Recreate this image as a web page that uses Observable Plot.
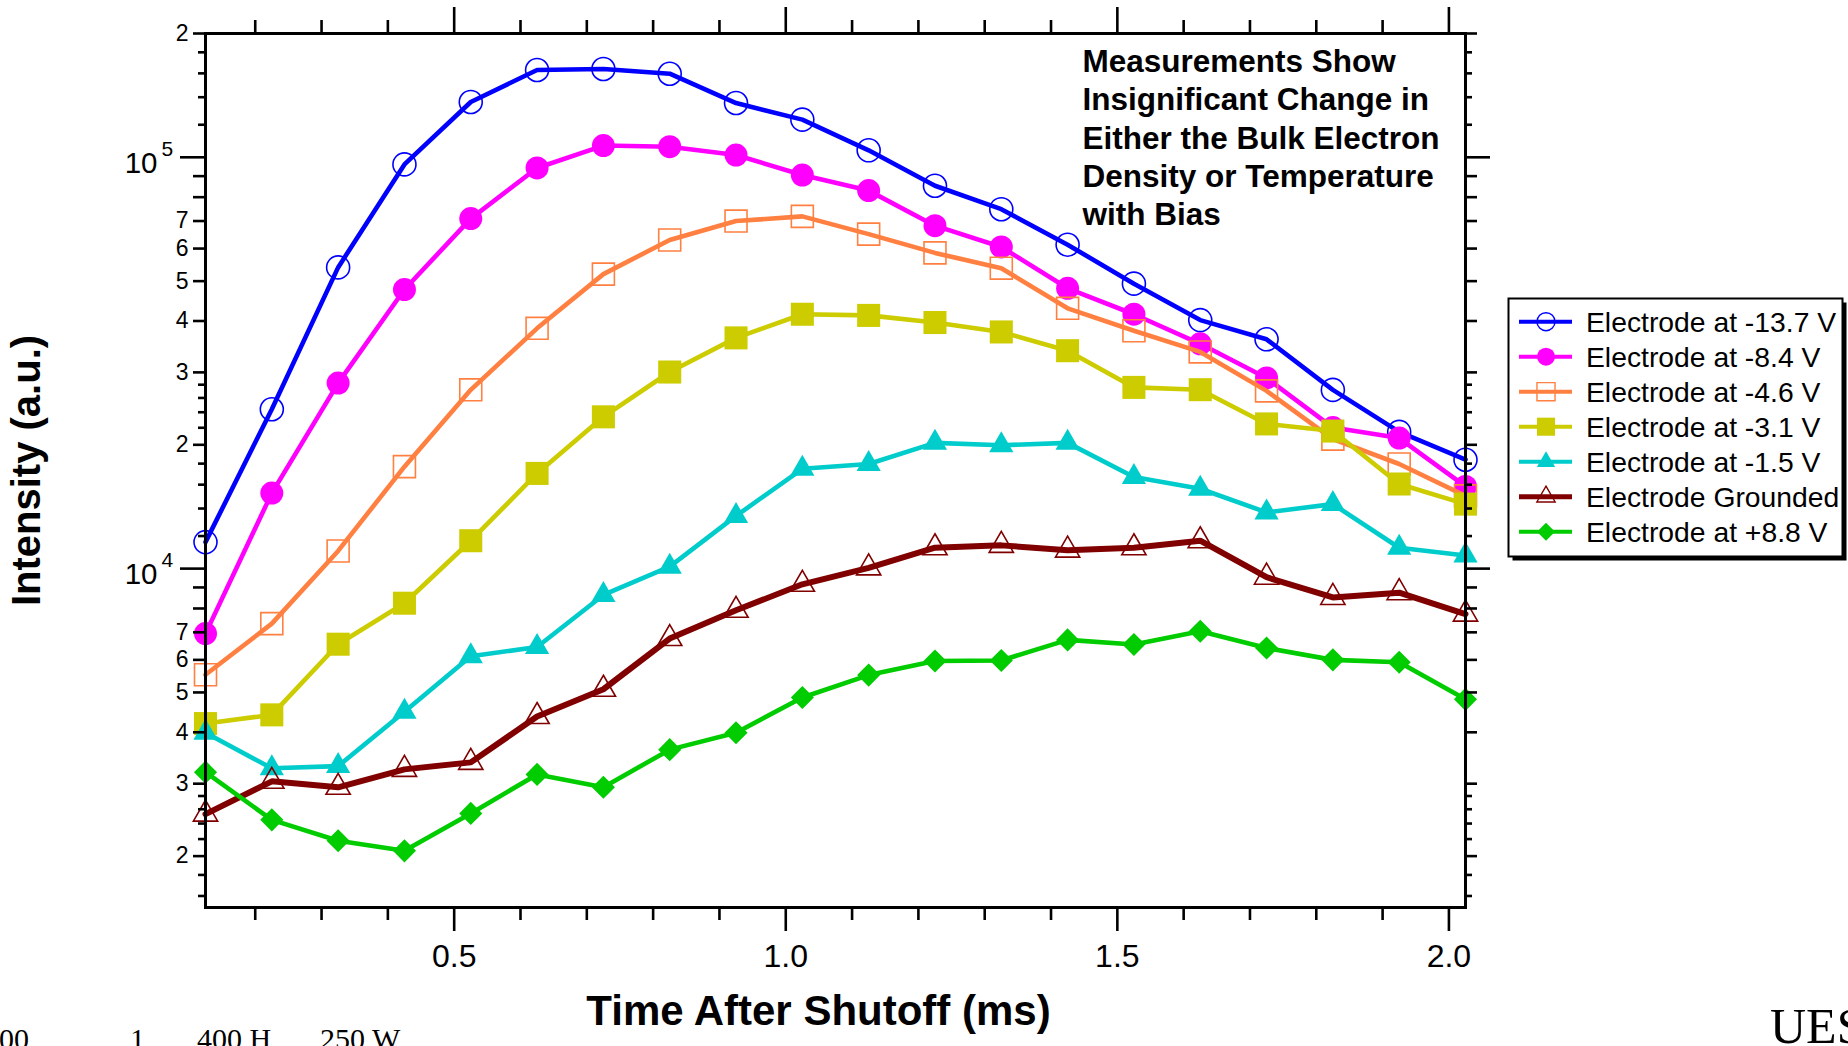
<!DOCTYPE html>
<html><head><meta charset="utf-8">
<script src="https://cdn.jsdelivr.net/npm/d3@7"></script>
<script src="https://cdn.jsdelivr.net/npm/@observablehq/plot@0.6"></script>
<style>
html,body{margin:0;padding:0;background:#fff;overflow:hidden;}
#wrap{position:relative;width:1848px;height:1046px;overflow:hidden;background:#fff;}
</style></head><body><div id="wrap"></div>
<script>
// ---------- data ----------
const times = [0.125,0.225,0.325,0.425,0.525,0.625,0.725,0.825,0.925,1.025,1.125,1.225,1.325,1.425,1.525,1.625,1.725,1.825,1.925,2.025];
const seriesNames = ["Electrode at -13.7 V","Electrode at -8.4 V","Electrode at -4.6 V","Electrode at -3.1 V","Electrode at -1.5 V","Electrode Grounded","Electrode at +8.8 V"];
const vNeg137 = [11600,24400,54000,96100,136300,163000,164000,159700,135500,123500,104000,85300,74800,61300,49300,40200,36100,27200,21500,18400];
const vNeg84  = [6950,15260,28250,47700,70960,94200,106800,106100,101300,90550,83000,68200,60540,48030,41540,35210,29080,22030,20770,15840];
const vNeg46  = [5520,7350,11040,17700,27210,38390,52000,62960,69980,71840,65060,58560,53760,42940,37870,33640,27050,20640,17960,15030];
const vNeg31  = [4200,4410,6550,8240,11690,17040,23390,30060,36390,41540,41270,39660,37620,33870,27580,27230,22480,21600,16060,14350];
const vNeg15  = [3990,3270,3310,4490,6120,6450,8630,10110,13430,17490,17960,20220,19950,20220,16700,15640,13700,14350,11240,10760];
const vGround = [2530,3040,2940,3250,3380,4370,5090,6760,7920,9160,10040,11240,11390,11090,11240,11690,9530,8510,8740,7750];
const vPos88  = [3200,2450,2180,2060,2540,3160,2940,3630,3990,4860,5510,5960,5980,6710,6540,7040,6410,6000,5920,4810];
const seriesValues = [vNeg137,vNeg84,vNeg46,vNeg31,vNeg15,vGround,vPos88];
const seriesColors = ["#0000ff","#ff00ff","#ff8040","#cccc00","#00cccc","#800000","#00cc00"];
const seriesSymbols = ["circle","circle","square","square","triangle","triangle","diamond2"];
const seriesFilled = [false,true,false,true,true,false,true];

const yDecades = [1e4,1e5];
const yLabeled = [2e3,3e3,4e3,5e3,6e3,7e3,2e4,3e4,4e4,5e4,6e4,7e4,2e5];
const yMedium = [8e3,9e3,8e4,9e4];
const yShort = [1.6e3,1.8e3,2.2e3,2.4e3,2.6e3,2.8e3,1.2e4,1.4e4,1.6e4,1.8e4,2.2e4,2.4e4,2.6e4,2.8e4,1.2e5,1.4e5,1.6e5,1.8e5];
const xMajor = [0.5,1.0,1.5,2.0];
const xMinor = [0.2,0.3,0.4,0.6,0.7,0.8,0.9,1.1,1.2,1.3,1.4,1.6,1.7,1.8,1.9];
const xTitle = "Time After Shutoff (ms)";
const yTitle = "Intensity (a.u.)";
const note = "Measurements Show\nInsignificant Change in\nEither the Bulk Electron\nDensity or Temperature\nwith Bias";
const footLeftParts = ["00", "1", "400 H", "250 W"];
const footRight = "UES";

// ---------- layout ----------
const W = 1848, H = 1046, ML = 205, MR = 383, MT = 33, MB = 139;
const IW = W - ML - MR, IH = H - MT - MB;
const FONT = "'Liberation Sans', Arial, Helvetica, sans-serif";
const SERIF = "'Liberation Serif', 'Times New Roman', serif";

const table = seriesNames.flatMap((name, s) => times.map((t, i) => ({t, v: seriesValues[s][i], s})));

const yTick = (vals, len) => [
  Plot.ruleY(vals, {y: d => d, stroke: "black", strokeWidth: 2.6, insetLeft: -len, insetRight: IW}),
  Plot.ruleY(vals, {y: d => d, stroke: "black", strokeWidth: 2.6, insetLeft: IW, insetRight: -len})
];
const xTick = (vals, lenTop, lenBottom) => [
  Plot.ruleX(vals, {x: d => d, stroke: "black", strokeWidth: 2.6, insetTop: IH, insetBottom: -lenBottom}),
  Plot.ruleX(vals, {x: d => d, stroke: "black", strokeWidth: 2.6, insetTop: -lenTop, insetBottom: IH})
];

const seriesMarks = seriesNames.flatMap((name, s) => {
  const rows = table.filter(d => d.s === s);
  const sym = seriesSymbols[s];
  const r = sym === "circle" ? 11.5 : sym === "square" ? (seriesFilled[s] ? 13 : 12.4) : sym === "triangle" ? 9 : 10.4;
  return [
    Plot.line(rows, {x: "t", y: "v", stroke: seriesColors[s], strokeWidth: s === 5 ? 6 : 4.6, strokeLinejoin: "miter"}),
    Plot.dot(rows, {x: "t", y: "v", symbol: () => sym, r,
      fill: seriesFilled[s] ? seriesColors[s] : "none",
      stroke: seriesColors[s], strokeWidth: seriesFilled[s] ? 0 : 1.6})
  ];
});

const noteFont = 31.5, noteLH = 38.3;
const chart = Plot.plot({
  width: W, height: H,
  marginLeft: ML, marginRight: MR, marginTop: MT, marginBottom: MB,
  style: {fontFamily: FONT, background: "white", overflow: "visible", color: "black"},
  x: {domain: [0.125, 2.025], axis: null},
  y: {type: "log", domain: [1500, 2e5], axis: null},
  marks: [
    ...seriesMarks,
    Plot.frame({stroke: "black", strokeWidth: 3}),
    ...yTick(yDecades, 25),
    ...yTick(yLabeled, 12),
    ...yTick(yMedium, 12),
    ...yTick(yShort, 7),
    ...xTick(xMajor, 26, 24),
    ...xTick(xMinor, 13, 13),
    Plot.text(yLabeled, {y: d => d, text: d => String(Math.round(d / 10 ** Math.floor(Math.log10(d) + 1e-9))),
      frameAnchor: "left", dx: -17, textAnchor: "end", fontSize: 23, fill: "black"}),
    Plot.text(yDecades, {y: d => d, text: () => "10", frameAnchor: "left", dx: -48, dy: 6, textAnchor: "end", fontSize: 29.5, fill: "black"}),
    Plot.text(yDecades, {y: d => d, text: d => String(Math.round(Math.log10(d))), frameAnchor: "left", dx: -44, dy: -8, textAnchor: "start", fontSize: 21, fill: "black"}),
    Plot.text(xMajor, {x: d => d, text: d => d.toFixed(1), frameAnchor: "bottom", dy: 59, fontSize: 32, fill: "black"}),
    Plot.text([xTitle], {text: d => d, frameAnchor: "bottom", dx: -17, dy: 117, textAnchor: "middle", fontSize: 42, fontWeight: "bold", fill: "black"}),
    Plot.text([yTitle], {text: d => d, frameAnchor: "left", dx: -178, rotate: -90, textAnchor: "middle", fontSize: 40, fontWeight: "bold", fill: "black"}),
    Plot.text([note], {text: d => d, frameAnchor: "top-left", dx: 877, dy: 71.7 - MT - 0.71 * noteLH,
      textAnchor: "start", lineAnchor: "top", lineHeight: noteLH / noteFont, fontSize: noteFont, fontWeight: "bold", fill: "black"})
  ]
});
document.getElementById("wrap").appendChild(chart);

// ---------- legend & footer overlay ----------
const ov = d3.select("#wrap").append("svg")
  .attr("width", W).attr("height", H)
  .style("position", "absolute").style("left", "0px").style("top", "0px")
  .style("pointer-events", "none").style("font-family", FONT);
const LX = 1508.5, LY = 298.5, LW = 334, LH = 258;
ov.append("rect").attr("x", LX + 4).attr("y", LY + 4).attr("width", LW).attr("height", LH).attr("fill", "black");
ov.append("rect").attr("x", LX).attr("y", LY).attr("width", LW).attr("height", LH).attr("fill", "white").attr("stroke", "black").attr("stroke-width", 2);
const symMap = {circle: d3.symbolCircle, square: d3.symbolSquare, triangle: d3.symbolTriangle, diamond2: d3.symbolDiamond2};
const legR = {circle: 9, square: 10.2, triangle: 6.8, diamond2: 8.1};
seriesNames.forEach((name, s) => {
  const cy = 321.7 + 35 * s;
  const g = ov.append("g");
  g.append("line").attr("x1", 1519).attr("x2", 1572).attr("y1", cy).attr("y2", cy)
    .attr("stroke", seriesColors[s]).attr("stroke-width", s === 5 ? 5 : 4);
  const sym = seriesSymbols[s];
  const rr = legR[sym];
  g.append("path").attr("transform", `translate(1546,${cy})`)
    .attr("d", d3.symbol(symMap[sym], rr * rr * Math.PI)())
    .attr("fill", seriesFilled[s] ? seriesColors[s] : "none")
    .attr("stroke", seriesColors[s]).attr("stroke-width", seriesFilled[s] ? 0 : 1.4);
  g.append("text").attr("x", 1586).attr("y", cy).attr("dy", "0.36em")
    .attr("font-size", 28.3).attr("fill", "black").text(name);
});
const footX = [-1, 130, 197, 320];
const fl = ov.append("text").attr("y", 1049).attr("font-family", SERIF).attr("font-size", 30).attr("fill", "black");
footLeftParts.forEach((p, i) => fl.append("tspan").attr("x", footX[i]).text(p));
ov.append("text").attr("x", 1770).attr("y", 1043).attr("font-family", SERIF)
  .attr("font-size", 50).attr("fill", "black").text(footRight);
</script>
</body></html>
